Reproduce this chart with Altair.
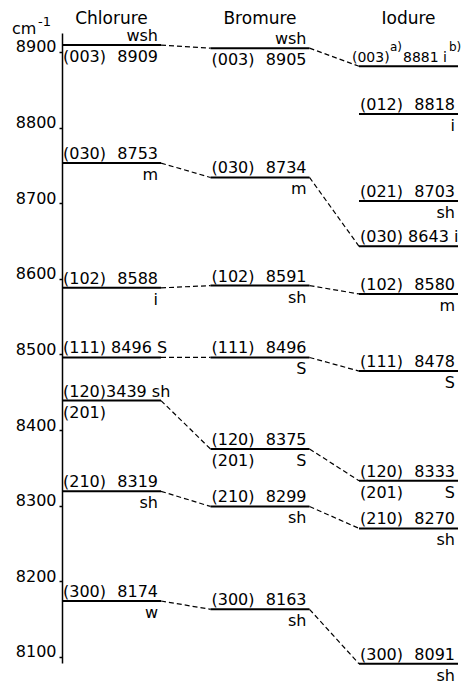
import altair as alt
import pandas as pd

columns = ["Chlorure", "Bromure", "Iodure"]

chl_states = ["(003)", "(030)", "(102)", "(111)", "(120)", "(210)", "(300)"]
chl_values = [8909, 8753, 8588, 8496, 8439, 8319, 8174]
chl_top_left = ["", "(030)", "(102)", "(111) 8496 S", "(120)3439 sh", "(210)", "(300)"]
chl_top_right = ["wsh", "8753", "8588", "", "", "8319", "8174"]
chl_bottom_left = ["(003)", "", "", "", "(201)", "", ""]
chl_bottom_right = ["8909", "m", "i", "", "", "sh", "w"]

bro_states = ["(003)", "(030)", "(102)", "(111)", "(120)", "(210)", "(300)"]
bro_values = [8905, 8734, 8591, 8496, 8375, 8299, 8163]
bro_top_left = ["", "(030)", "(102)", "(111)", "(120)", "(210)", "(300)"]
bro_top_right = ["wsh", "8734", "8591", "8496", "8375", "8299", "8163"]
bro_bottom_left = ["(003)", "", "", "", "(201)", "", ""]
bro_bottom_right = ["8905", "m", "sh", "S", "S", "sh", "sh"]

iod_states = ["(003)", "(012)", "(021)", "(030)", "(102)", "(111)", "(120)", "(210)", "(300)"]
iod_values = [8881, 8818, 8703, 8643, 8580, 8478, 8333, 8270, 8091]
iod_top_left = ["(003)", "(012)", "(021)", "(030) 8643 i", "(102)", "(111)", "(120)", "(210)", "(300)"]
iod_top_right = ["8881 i", "8818", "8703", "", "8580", "8478", "8333", "8270", "8091"]
iod_bottom_left = ["", "", "", "", "", "", "(201)", "", ""]
iod_bottom_right = ["", "i", "sh", "", "m", "S", "S", "sh", "sh"]
iod_notes = ["a)", "b)"]

tick_values = [8100, 8200, 8300, 8400, 8500, 8600, 8700, 8800, 8900]
unit_label = ["cm", "-1"]

FONT = "DejaVu Sans"

rows = []
for ci, (st, va, tl, tr, bl, br) in enumerate([
    (chl_states, chl_values, chl_top_left, chl_top_right, chl_bottom_left, chl_bottom_right),
    (bro_states, bro_values, bro_top_left, bro_top_right, bro_bottom_left, bro_bottom_right),
    (iod_states, iod_values, iod_top_left, iod_top_right, iod_bottom_left, iod_bottom_right),
]):
    for s, v, a, b, c, d in zip(st, va, tl, tr, bl, br):
        rows.append(dict(ci=ci, col=columns[ci], state=s, value=v, tl=a, tr=b, bl=c, br=d))
levels = pd.DataFrame(rows)
levels["x"] = levels["ci"] * 3
levels["x2"] = levels["ci"] * 3 + 2
levels["special"] = (levels["ci"] == 2) & (levels["state"] == "(003)")

conn = []
for ci in (0, 1):
    a = levels[levels.ci == ci]
    b = levels[levels.ci == ci + 1]
    m = a.merge(b, on="state", suffixes=("_a", "_b"))
    for _, r in m.iterrows():
        conn.append(dict(x=r["x2_a"], xe=r["x_b"], value=r["value_a"], value2=r["value_b"]))
conn = pd.DataFrame(conn)

heads = pd.DataFrame({"col": columns, "hx": [3 * i + 1 for i in range(len(columns))]})
notes = pd.DataFrame({"note": iod_notes})
notes["x"] = 6
notes["x2"] = 8
notes["value"] = iod_values[0]

xs = alt.Scale(domain=[0, 8], nice=False, zero=False)
ys = alt.Scale(domain=[8092, 8925], nice=False, zero=False)
yaxis = alt.Axis(values=tick_values, title=None, grid=False, domainColor="black",
                 domainWidth=1.5, tickColor="black", tickSize=3, tickWidth=1.5,
                 labelFont=FONT, labelFontSize=16, labelColor="black",
                 labelBaseline="alphabetic", labelPadding=3, format="d")
Y = alt.Y("value:Q", scale=ys, axis=yaxis)

base = alt.Chart(levels)
lev = base.mark_rule(color="black", strokeWidth=2).encode(
    x=alt.X("x:Q", scale=xs, axis=None), x2="x2:Q", y=Y)
lines = alt.Chart(conn).mark_rule(color="black", strokeWidth=1.2, strokeDash=[5, 3]).encode(
    x=alt.X("x:Q", scale=xs, axis=None), x2="xe:Q", y=Y, y2="value2:Q")

def txt(field, anchor, align, dx, dy, size=16, extra="!datum.special"):
    return base.mark_text(align=align, baseline="alphabetic", dx=dx, dy=dy, fontSize=size,
                          font=FONT, color="black").encode(
        x=alt.X(f"{anchor}:Q", scale=xs, axis=None), y=Y, text=f"{field}:N"
    ).transform_filter(f"datum.{field} != '' && {extra}")

tl = txt("tl", "x", "left", 1, -4)
tr = txt("tr", "x2", "right", -3, -4)
bl = txt("bl", "x", "left", 1, 17)
br = txt("br", "x2", "right", -3, 17)
sp_l = txt("tl", "x", "left", -7, -4, 14, "datum.special")
sp_r = txt("tr", "x2", "right", -11, -4, 14, "datum.special")

note_a = alt.Chart(notes).mark_text(align="left", baseline="alphabetic", dx=31, dy=-15,
                                    fontSize=12, font=FONT, color="black").encode(
    x=alt.X("x:Q", scale=xs, axis=None), y=Y, text="note:N").transform_filter("datum.note == 'a)'")
note_b = alt.Chart(notes).mark_text(align="left", baseline="alphabetic", dx=-9, dy=-15,
                                    fontSize=12, font=FONT, color="black").encode(
    x=alt.X("x2:Q", scale=xs, axis=None), y=Y, text="note:N").transform_filter("datum.note == 'b)'")

head = alt.Chart(heads).mark_text(align="center", baseline="alphabetic", fontSize=17,
                                  font=FONT, color="black").encode(
    x=alt.X("hx:Q", scale=xs, axis=None), y=alt.value(-9), text="col:N")

cm = alt.Chart(pd.DataFrame({"t": [unit_label[0]]})).mark_text(
    align="left", baseline="alphabetic", fontSize=16, font=FONT, color="black").encode(
    x=alt.value(-50), y=alt.value(1), text="t:N")
cm_exp = alt.Chart(pd.DataFrame({"t": [unit_label[1]]})).mark_text(
    align="left", baseline="alphabetic", fontSize=13, font=FONT, color="black").encode(
    x=alt.value(-24), y=alt.value(-7), text="t:N")

chart = alt.layer(lev, lines, tl, tr, bl, br, sp_l, sp_r, note_a, note_b, head, cm, cm_exp).properties(
    width=396, height=630,
    padding={"left": 54, "top": 25, "right": 5, "bottom": 18},
    autosize=alt.AutoSizeParams(type="none"),
).configure_view(stroke=None)

chart.save("out.html", embed_options={"renderer": "svg", "actions": False})
